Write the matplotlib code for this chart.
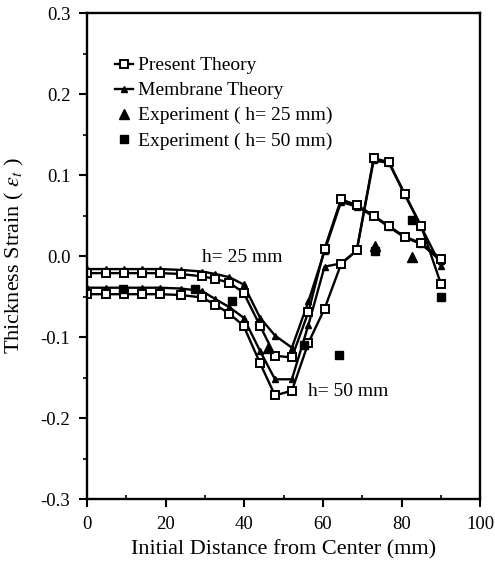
import matplotlib
matplotlib.use("Agg")
import matplotlib.pyplot as plt
from matplotlib.ticker import MultipleLocator

plt.rcParams["font.family"] = ["Liberation Serif", "DejaVu Serif"]
plt.rcParams["mathtext.fontset"] = "stix"

# initial distance of the mesh nodes (mm)
dist = [0, 4.8, 9.3, 14.0, 18.6, 23.8, 29.2, 32.6, 36.2, 39.8, 44.0, 47.8,
        52.1, 56.3, 60.4, 64.6, 68.6, 72.9, 76.8, 80.8, 85.0, 90.0]

# thickness strain, theories
present_25 = [-0.021, -0.021, -0.021, -0.021, -0.021, -0.022, -0.025, -0.028, -0.033,
              -0.045, -0.086, -0.123, -0.125, -0.069, 0.009, 0.070, 0.063, 0.050,
              0.037, 0.024, 0.016, -0.003]
membrane_25 = [-0.016, -0.016, -0.016, -0.016, -0.016, -0.017, -0.019, -0.022, -0.026,
               -0.035, -0.076, -0.098, -0.113, -0.056, 0.006, 0.067, 0.061, 0.049,
               0.036, 0.023, 0.015, -0.006]
present_50 = [-0.047, -0.047, -0.047, -0.047, -0.047, -0.048, -0.051, -0.060, -0.071,
              -0.086, -0.132, -0.172, -0.166, -0.107, -0.065, -0.010, 0.007, 0.121,
              0.116, 0.077, 0.037, -0.034]
membrane_50 = [-0.039, -0.039, -0.039, -0.039, -0.039, -0.040, -0.043, -0.053, -0.063,
               -0.076, -0.117, -0.152, -0.152, -0.085, -0.013, -0.009, 0.007, 0.118,
               0.115, 0.076, 0.036, -0.012]

# experiments
exp25_x = [46.1, 73.3, 82.6]
exp25_y = [-0.113, 0.012, -0.001]
exp50_x = [9.2, 27.5, 36.8, 55.3, 64.2, 73.3, 82.6, 90.1]
exp50_y = [-0.040, -0.040, -0.056, -0.110, -0.122, 0.006, 0.044, -0.051]

fig = plt.figure(figsize=(4.95, 5.66), dpi=100)
ax = fig.add_axes([0.176, 0.118, 0.794, 0.859])

tri = dict(color="k", lw=1.7, marker="^", ms=5, mfc="k", mec="k")
sq = dict(color="k", lw=1.7, marker="s", ms=5.5, mfc="white", mec="k", mew=1.4)

ax.plot(dist, membrane_50, **tri)
ax.plot(dist, membrane_25, label="Membrane Theory", **tri)
ax.plot(dist, present_50, **sq)
ax.plot(dist, present_25, label="Present Theory", **sq)
ax.plot(exp25_x, exp25_y, ls="none", marker="^", ms=7, color="k",
        label="Experiment ( h= 25 mm)")
ax.plot(exp50_x, exp50_y, ls="none", marker="s", ms=6, color="k",
        label="Experiment ( h= 50 mm)")

ax.text(29.2, -0.002, "h= 25 mm", fontsize=14, va="center", ha="left")
ax.text(56.2, -0.167, "h= 50 mm", fontsize=14, va="center", ha="left")

ax.set_xlim(0, 100)
ax.set_ylim(-0.3, 0.3)
ax.xaxis.set_minor_locator(MultipleLocator(10))
ax.yaxis.set_minor_locator(MultipleLocator(0.05))
ax.set_xticks([0, 20, 40, 60, 80, 100])
ax.set_xticklabels(["0", "20", "40", "60", "80", "100"])
ax.set_yticks([-0.3, -0.2, -0.1, 0.0, 0.1, 0.2, 0.3])
ax.set_yticklabels(["-0.3", "-0.2", "-0.1", "0.0", "0.1", "0.2", "0.3"])
ax.tick_params(which="major", direction="out", length=6, width=1.5, labelsize=13.5, pad=6)
ax.tick_params(axis="y", which="minor", direction="out", length=3, width=1.2)
ax.tick_params(axis="x", which="minor", direction="in", length=3, width=1.2)
for s in ax.spines.values():
    s.set_linewidth(1.7)

ax.set_xlabel("Initial Distance from Center (mm)", fontsize=16)
ax.set_ylabel(r"Thickness Strain ( $\epsilon_t$ )", fontsize=16)
ax.xaxis.set_label_coords(0.5, -0.083)
ax.yaxis.set_label_coords(-0.155, 0.5)

h, l = ax.get_legend_handles_labels()
order = [1, 0, 2, 3]
ax.legend([h[i] for i in order], [l[i] for i in order], loc="upper left",
          bbox_to_anchor=(0.071, 0.91), frameon=False, fontsize=14,
          handlelength=0.9, handletextpad=0.3, labelspacing=0.38,
          borderaxespad=0, borderpad=0)

fig.savefig("out.png", dpi=100)
